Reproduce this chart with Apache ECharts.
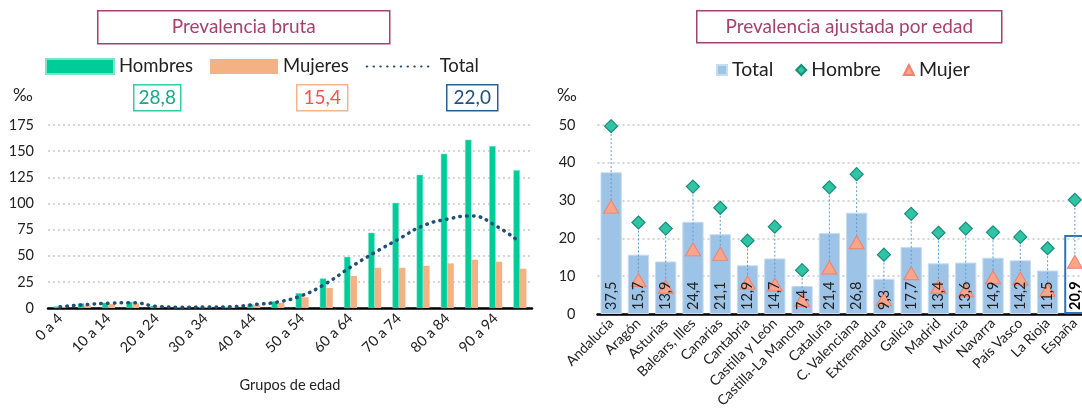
<!DOCTYPE html>
<html><head><meta charset="utf-8">
<script src="https://cdn.jsdelivr.net/npm/echarts@6/dist/echarts.min.js"></script>
<style>html,body{margin:0;padding:0;background:#fff}#c{width:1082px;height:410px}</style>
</head><body><div id="c"></div>
<script>
// ---- Left chart data (Prevalencia bruta, ‰) ----
const ageGroups = ['0 a 4','5 a 9','10 a 14','15 a 19','20 a 24','25 a 29','30 a 34','35 a 39','40 a 44','45 a 49','50 a 54','55 a 59','60 a 64','65 a 69','70 a 74','75 a 79','80 a 84','85 a 89','90 a 94','95 y más'];
const hombresBruta = [1.6,4.5,5.0,6.0,2.2,1.0,1.0,1.3,3.5,6.4,14.3,28.3,49.0,72.0,100.6,127.4,147.5,161.0,154.8,131.8];
const mujeresBruta = [0.7,2.5,3.8,4.5,1.3,0.7,0.8,1.0,3.2,5.1,10.2,19.1,30.6,38.5,38.5,40.4,42.7,46.2,44.3,37.6];
const totalBruta   = [1.1,3.2,4.5,5.1,1.6,0.8,0.9,1.1,3.3,5.8,12.0,23.6,39.0,53.0,66.0,78.7,85.0,88.0,78.7,62.7];
const resumenBruta = ['28,8','15,4','22,0'];
const leftTicks = [0,25,50,75,100,125,150,175];

// ---- Right chart data (Prevalencia ajustada por edad, ‰) ----
const regiones = ['Andalucía','Aragón','Asturias','Balears, Illes','Canarias','Cantabria','Castilla y León','Castilla-La Mancha','Cataluña','C. Valenciana','Extremadura','Galicia','Madrid','Murcia','Navarra','País Vasco','La Rioja','España'];
const totalAjust  = [37.5,15.7,13.9,24.4,21.1,12.9,14.7,7.4,21.4,26.8,9.3,17.7,13.4,13.6,14.9,14.2,11.5,20.9];
const hombreAjust = [49.7,24.2,22.6,33.7,28.1,19.4,23.1,11.6,33.5,37.0,15.7,26.5,21.5,22.6,21.6,20.4,17.4,30.2];
const mujerAjust  = [28.4,9.0,7.2,17.1,15.9,8.3,7.8,3.7,12.3,19.0,3.9,10.8,7.2,6.3,9.7,9.4,6.4,13.8];
const rightTicks = [0,10,20,30,40,50];

const FONT = 'Lato, "Open Sans", sans-serif';
const fmt = v => v.toFixed(1).replace('.', ',');
const LAST = regiones.length - 1;

const chart = echarts.init(document.getElementById('c'), null, {renderer:'canvas'});

function boxText(x, y, w, h, text, border, color, size, lw) {
  return {
    type:'group', left:x, top:y,
    children:[
      {type:'rect', shape:{x:0,y:0,width:w,height:h}, style:{fill:'#fff', stroke:border, lineWidth:lw||1.5}},
      {type:'text', x:w/2, y:h/2, style:{text:text, fill:color, font:size+'px '+FONT, align:'center', verticalAlign:'middle'}}
    ]
  };
}

const option = {
  animation:false,
  textStyle:{fontFamily:FONT},
  graphic:[
    boxText(97,10,292,33,'Prevalencia bruta','#A5426F','#A5426F',19,1.5),
    boxText(696,10,305,32,'Prevalencia ajustada por edad','#A5426F','#A5426F',19,1.5),
    boxText(133,84,47,26,resumenBruta[0],'#33CCA6','#19A78A',19,1.5),
    boxText(296,84,51,26,resumenBruta[1],'#F5B58A','#FF4F4F',19,1.5),
    boxText(446,84,51,26,resumenBruta[2],'#2F5F8F','#23507D',19,1.5),
    {type:'text', left:13, top:87, style:{text:'‰', fill:'#222', font:'17px '+FONT}},
    {type:'text', left:557, top:87, style:{text:'‰', fill:'#222', font:'17px '+FONT}}
  ],
  legend:[
    {
      left:45, top:57, padding:0, itemWidth:68, itemHeight:15, itemGap:17,
      textStyle:{fontSize:18.5, color:'#222', fontFamily:FONT},
      data:[{name:'Hombres', icon:'rect'},{name:'Mujeres', icon:'rect'},
            {name:'Total', itemStyle:{opacity:0}}],
      selectedMode:false
    },
    {
      left:716, top:60, padding:0, itemWidth:10, itemHeight:10, itemGap:22,
      textStyle:{fontSize:19.5, color:'#222', fontFamily:FONT},
      data:[{name:'TotalAj', icon:'rect'},{name:'Hombre', icon:'diamond'},{name:'Mujer', icon:'triangle'}],
      formatter: n => n === 'TotalAj' ? 'Total' : n,
      selectedMode:false
    }
  ],
  grid:[
    {left:48, top:125, width:484, bottom:102, outerBoundsMode:'none'},
    {left:597.5, top:125, width:491, bottom:96, outerBoundsMode:'none'}
  ],
  xAxis:[
    {
      type:'category', gridIndex:0, data:ageGroups,
      axisLine:{lineStyle:{color:'#000', width:2.5}},
      axisTick:{show:false},
      axisLabel:{interval:1, rotate:45, fontSize:14.5, color:'#222', margin:8, fontFamily:FONT},
      name:'Grupos de edad', nameLocation:'middle', nameGap:70,
      nameTextStyle:{fontSize:14.5, color:'#222', fontFamily:FONT}
    },
    {
      type:'category', gridIndex:1, data:regiones,
      axisLine:{lineStyle:{color:'#000', width:2.5}},
      axisTick:{show:false},
      axisLabel:{interval:0, rotate:45, fontSize:14, color:'#222', margin:7, fontFamily:FONT}
    }
  ],
  yAxis:[
    {
      type:'value', gridIndex:0, min:leftTicks[0], max:leftTicks[leftTicks.length-1], interval:25,
      axisLine:{show:false}, axisTick:{show:false},
      axisLabel:{fontSize:14.5, color:'#222', margin:14, fontFamily:FONT},
      splitLine:{lineStyle:{color:'#c8c8c8', type:[2,3], width:1.5}}
    },
    {
      type:'value', gridIndex:1, min:rightTicks[0], max:rightTicks[rightTicks.length-1], interval:10,
      axisLine:{show:false}, axisTick:{show:false},
      axisLabel:{fontSize:14.5, color:'#222', margin:22, fontFamily:FONT},
      splitLine:{lineStyle:{color:'#c8c8c8', type:[2,3], width:1.5}}
    }
  ],
  series:[
    {
      name:'Hombres', type:'bar', xAxisIndex:0, yAxisIndex:0, data:hombresBruta,
      barWidth:6.5, barGap:'0%',
      itemStyle:{color:'#00CC99', borderColor:'#7fe3c8', borderWidth:0.5}
    },
    {
      name:'Mujeres', type:'bar', xAxisIndex:0, yAxisIndex:0, data:mujeresBruta,
      barWidth:6.5, barGap:'0%',
      itemStyle:{color:'#F4B183'}
    },
    {
      name:'Total', type:'line', xAxisIndex:0, yAxisIndex:0, data:totalBruta,
      smooth:0.5, symbol:'none', itemStyle:{color:'#1F4E79'},
      lineStyle:{color:'#1F4E79', width:3.5, type:[0.5,6.3], cap:'round'}, z:5
    },
    {
      name:'TotalAj', type:'bar', xAxisIndex:1, yAxisIndex:1,
      data: totalAjust.map((v,i) => i === LAST
        ? {value:v, itemStyle:{color:'rgba(255,255,255,0)', borderColor:'#2E75B6', borderWidth:2}}
        : v),
      barCategoryGap:'22%', barGap:'-100%',
      itemStyle:{color:'#9DC3E6', borderColor:'#c6dcf0', borderWidth:1}
    },
    {
      name:'Etiquetas', type:'bar', xAxisIndex:1, yAxisIndex:1,
      data: totalAjust.map((v,i) => i === LAST
        ? {value:v, label:{fontWeight:'bold', color:'#000'}} : v),
      barCategoryGap:'22%', barGap:'-100%',
      itemStyle:{color:'rgba(0,0,0,0)'}, z:10, silent:true,
      label:{show:true, position:'insideBottom', rotate:90, align:'left', verticalAlign:'middle',
             distance:4, fontSize:14.5, color:'#222', fontFamily:FONT, formatter:p => fmt(p.value)}
    },
    {
      name:'Enlace', type:'custom', xAxisIndex:1, yAxisIndex:1,
      data: regiones.map((r,i) => [i, hombreAjust[i], mujerAjust[i]]),
      renderItem:(params, api) => {
        const a = api.coord([api.value(0), api.value(1)]);
        const b = api.coord([api.value(0), api.value(2)]);
        return {type:'line', shape:{x1:a[0], y1:a[1], x2:b[0], y2:b[1]},
                style:{stroke:'#5B9BD5', lineWidth:1, lineDash:[2,2]}};
      },
      z:3, silent:true
    },
    {
      name:'Hombre', type:'scatter', xAxisIndex:1, yAxisIndex:1, data:hombreAjust,
      symbol:'diamond', symbolSize:13,
      itemStyle:{color:'#2EC4A5', borderColor:'#178F78', borderWidth:1.2, opacity:1}, z:6
    },
    {
      name:'Mujer', type:'scatter', xAxisIndex:1, yAxisIndex:1, data:mujerAjust,
      symbol:'triangle', symbolSize:[15,13],
      itemStyle:{color:'#F9A58A', borderColor:'#F08070', borderWidth:1, opacity:1}, z:6
    }
  ]
};
chart.setOption(option);
</script>
</body></html>
